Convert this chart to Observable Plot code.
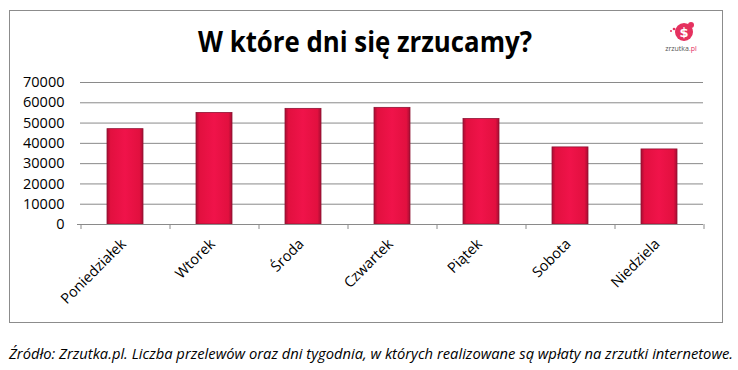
<!DOCTYPE html>
<html>
<head>
<meta charset="utf-8">
<script src="https://cdn.jsdelivr.net/npm/d3@7"></script>
<script src="https://cdn.jsdelivr.net/npm/@observablehq/plot@0.6"></script>
<style>
  html, body { margin: 0; padding: 0; background: #fff; }
  body { width: 738px; height: 370px; position: relative; overflow: hidden; font-family: "Open Sans", sans-serif; }
  #box { position: absolute; left: 9px; top: 10px; width: 714px; height: 313px; border: 1px solid #8c8c8c; box-sizing: border-box; }
  #title { position: absolute; left: 0; top: 0; }
  #chart { position: absolute; left: 0; top: 70px; }
  #caption { position: absolute; left: 0; top: 335px; }
  #logo { position: absolute; left: 664px; top: 18px; width: 40px; height: 40px; }
</style>
</head>
<body>
<div id="box"></div>
<svg id="title" width="738" height="70">
  <text x="365" y="52" text-anchor="middle" font-family="'Open Sans', sans-serif" font-weight="bold" font-size="29" textLength="334" lengthAdjust="spacingAndGlyphs" fill="#000">W które dni się zrzucamy?</text>
</svg>
<svg id="logo" width="40" height="40">
  <circle cx="20" cy="14" r="9" fill="#e5315f"></circle>
  <circle cx="27" cy="7" r="3" fill="#e5315f"></circle>
  <circle cx="10" cy="11" r="1.3" fill="#e5315f"></circle>
  <circle cx="7" cy="13" r="1" fill="#e5315f"></circle>
  <text x="20" y="19" text-anchor="middle" font-family="'DejaVu Sans', sans-serif" font-weight="bold" font-size="13" fill="#fff">$</text>
  <text x="17" y="33" text-anchor="middle" font-family="'Open Sans', sans-serif" font-size="7" fill="#555">zrzutka<tspan fill="#e5315f">.pl</tspan></text>
</svg>
<div id="chart"></div>
<svg id="caption" width="738" height="35">
  <text x="9" y="24" font-family="'Open Sans', sans-serif" font-style="italic" font-size="14" textLength="724" lengthAdjust="spacingAndGlyphs" fill="#000">Źródło: Zrzutka.pl. Liczba przelewów oraz dni tygodnia, w których realizowane są wpłaty na zrzutki internetowe.</text>
</svg>
<script>
const days = ["Poniedziałek", "Wtorek", "Środa", "Czwartek", "Piątek", "Sobota", "Niedziela"];
const transfers = [47000, 55000, 57000, 57500, 52000, 38000, 37000];
const yTicks = [0, 10000, 20000, 30000, 40000, 50000, 60000, 70000];

const data = days.map((d, i) => ({day: d, value: transfers[i]}));

const W = 738, H = 250, mL = 80, mR = 35, mT = 12, mB = 96;
const half = (W - mL - mR) / days.length / 2;

const plot = Plot.plot({
  width: W,
  height: H,
  marginLeft: mL,
  marginRight: mR,
  marginTop: mT,
  marginBottom: mB,
  style: {fontFamily: "'Open Sans', sans-serif", fontSize: "14.5px", color: "#000", background: "transparent"},
  x: {domain: days, padding: 0.6, paddingOuter: 0.3, label: null},
  y: {domain: [0, 70000], label: null},
  marks: [
    Plot.gridY(yTicks, {stroke: "#8a8a8a", strokeOpacity: 1}),
    Plot.barY(data, {x: "day", y: "value", fill: "url(#barGrad)", stroke: "#8e1534", strokeWidth: 0.8}),
    Plot.ruleX(days, {x: d => d, y1: 0, y2: 0, insetTop: 5, dx: -half, stroke: "#8a8a8a"}),
    Plot.ruleX(days.slice(-1), {x: d => d, y1: 0, y2: 0, insetTop: 5, dx: half, stroke: "#8a8a8a"}),
    Plot.ruleY([0], {stroke: "#8a8a8a", dx: 0, insetLeft: -3}),
    Plot.axisY(yTicks, {tickSize: 0, tickPadding: 16, tickFormat: d => String(d), fontSize: 14.5, label: null}),
    Plot.axisX({tickSize: 0, tickPadding: 17, tickRotate: -45, fontSize: 14.5, dx: -2, label: null})
  ]
});

// gradient for bevelled bars
const defs = d3.select(plot).insert("defs", ":first-child");
const g = defs.append("linearGradient").attr("id", "barGrad").attr("x1", "0").attr("x2", "1").attr("y1", "0").attr("y2", "0");
[[0, "#a80d33"], [0.1, "#e2103f"], [0.5, "#f0134a"], [0.9, "#e2103f"], [1, "#a80d33"]].forEach(([o, c]) =>
  g.append("stop").attr("offset", o).attr("stop-color", c));

document.getElementById("chart").appendChild(plot);
</script>
</body>
</html>
